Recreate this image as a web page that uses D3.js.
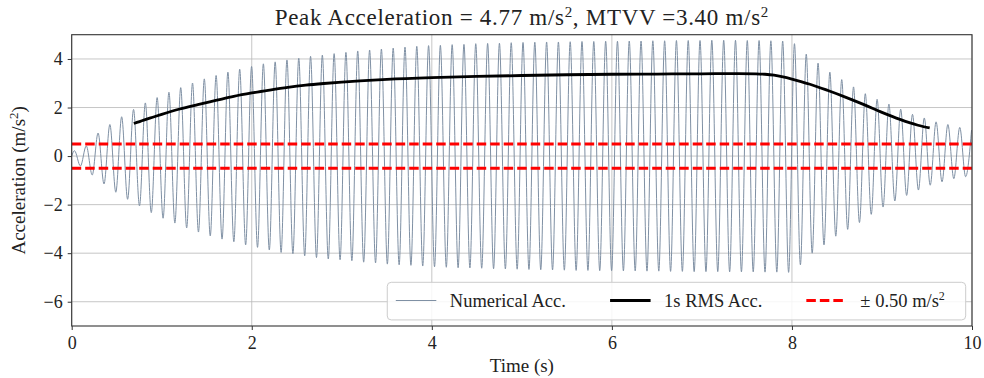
<!DOCTYPE html>
<html>
<head>
<meta charset="utf-8">
<script src="https://cdn.jsdelivr.net/npm/d3@7"></script>
<style>
  body { margin: 0; background: #fff; }
  svg { display: block; font-family: "Liberation Serif", "DejaVu Serif", serif; }
</style>
</head>
<body>
<div id="chart"></div>
<script>
// values
const startPoint = [0, 0];

const peakTimes = [0.031, 0.162, 0.293, 0.424, 0.555, 0.687, 0.818, 0.949, 1.080, 1.211,
  1.342, 1.473, 1.604, 1.735, 1.866, 1.998, 2.129, 2.260, 2.391, 2.522,
  2.653, 2.784, 2.915, 3.046, 3.177, 3.309, 3.440, 3.571, 3.702, 3.833,
  3.964, 4.095, 4.226, 4.357, 4.488, 4.620, 4.751, 4.882, 5.013, 5.144,
  5.275, 5.406, 5.537, 5.668, 5.799, 5.931, 6.062, 6.193, 6.324, 6.455,
  6.586, 6.717, 6.848, 6.979, 7.110, 7.242, 7.373, 7.504, 7.635, 7.766,
  7.897, 8.028, 8.159, 8.290, 8.421, 8.553, 8.684, 8.815, 8.946, 9.077,
  9.208, 9.339, 9.470, 9.601, 9.732, 9.864, 9.995];
const peakValues = [0.22, 0.42, 0.95, 1.30, 1.62, 1.92, 2.19, 2.41, 2.63, 2.82,
  3.01, 3.18, 3.32, 3.46, 3.58, 3.69, 3.80, 3.88, 3.96, 4.03,
  4.11, 4.16, 4.22, 4.27, 4.33, 4.37, 4.41, 4.45, 4.49, 4.52,
  4.55, 4.56, 4.59, 4.60, 4.63, 4.64, 4.65, 4.67, 4.68, 4.69,
  4.70, 4.70, 4.71, 4.72, 4.72, 4.73, 4.73, 4.74, 4.74, 4.75,
  4.75, 4.76, 4.76, 4.76, 4.77, 4.77, 4.77, 4.76, 4.76, 4.75,
  4.74, 4.63, 4.20, 3.83, 3.46, 3.15, 2.85, 2.57, 2.34, 2.14,
  1.93, 1.72, 1.57, 1.41, 1.30, 1.18, 1.07];

const troughTimes = [0.097, 0.228, 0.359, 0.490, 0.621, 0.753, 0.884, 1.015, 1.146, 1.277,
  1.408, 1.539, 1.670, 1.801, 1.932, 2.064, 2.195, 2.326, 2.457, 2.588,
  2.719, 2.850, 2.981, 3.112, 3.243, 3.375, 3.506, 3.637, 3.768, 3.899,
  4.030, 4.161, 4.292, 4.423, 4.554, 4.686, 4.817, 4.948, 5.079, 5.210,
  5.341, 5.472, 5.603, 5.734, 5.865, 5.997, 6.128, 6.259, 6.390, 6.521,
  6.652, 6.783, 6.914, 7.045, 7.176, 7.308, 7.439, 7.570, 7.701, 7.832,
  7.963, 8.094, 8.225, 8.356, 8.487, 8.619, 8.750, 8.881, 9.012, 9.143,
  9.274, 9.405, 9.536, 9.667, 9.798, 9.929];
const troughValues = [-0.41, -0.78, -1.15, -1.49, -1.78, -2.05, -2.33, -2.56, -2.76, -2.96,
  -3.13, -3.29, -3.42, -3.53, -3.66, -3.76, -3.87, -3.97, -4.02, -4.11,
  -4.18, -4.24, -4.27, -4.31, -4.37, -4.40, -4.45, -4.48, -4.50, -4.53,
  -4.56, -4.58, -4.60, -4.61, -4.62, -4.64, -4.65, -4.66, -4.67, -4.68,
  -4.69, -4.70, -4.71, -4.71, -4.72, -4.72, -4.73, -4.73, -4.74, -4.74,
  -4.75, -4.75, -4.76, -4.76, -4.76, -4.77, -4.77, -4.77, -4.78, -4.78,
  -4.79, -4.48, -4.00, -3.66, -3.30, -3.02, -2.74, -2.40, -2.10, -1.85,
  -1.62, -1.40, -1.20, -1.06, -0.93, -0.85];

const rmsTimes = [0.69, 0.8, 0.9, 1.0, 1.2, 1.4, 1.6, 1.8, 2.0, 2.2, 2.4, 2.6, 2.8, 3.0, 3.2,
  3.5, 4.0, 4.5, 5.0, 5.5, 6.0, 6.5, 7.0, 7.4, 7.6, 7.7, 7.8, 7.9, 8.0, 8.1, 8.2, 8.4, 8.6, 8.8, 9.0, 9.2, 9.4, 9.53];
const rmsValues = [1.34, 1.48, 1.60, 1.72, 1.94, 2.12, 2.29, 2.46, 2.60, 2.72, 2.83, 2.92, 2.99, 3.05, 3.10,
  3.16, 3.23, 3.28, 3.32, 3.35, 3.37, 3.38, 3.39, 3.40, 3.39, 3.37, 3.33, 3.26, 3.17, 3.07, 2.96, 2.70, 2.42, 2.12, 1.80, 1.51, 1.27, 1.16];

const limit = 0.5;
const xTicks = [0, 2, 4, 6, 8, 10];
const yTicks = [-6, -4, -2, 0, 2, 4];
const legendLabels = ["Numerical Acc.", "1s RMS Acc.", "\u00b1 0.50 m/s"];

const width = 984, height = 378;
const margin = { top: 34.7, right: 12, bottom: 52, left: 71.7 };
const w = width - margin.left - margin.right;
const h = height - margin.top - margin.bottom;

const svg = d3.select("#chart").append("svg")
  .attr("width", width)
  .attr("height", height);

const x = d3.scaleLinear().domain([0, 10]).range([0, w]);
const y = d3.scaleLinear().domain([-7, 5]).range([h, 0]);

const g = svg.append("g")
  .attr("transform", "translate(" + margin.left + "," + margin.top + ")");

g.append("clipPath").attr("id", "clip")
  .append("rect").attr("width", w).attr("height", h);

// grid
g.append("g").selectAll("line").data(xTicks).enter().append("line")
  .attr("x1", d => x(d)).attr("x2", d => x(d))
  .attr("y1", 0).attr("y2", h)
  .attr("stroke", "#b8b8b8").attr("stroke-width", 0.8);
g.append("g").selectAll("line").data(yTicks).enter().append("line")
  .attr("x1", 0).attr("x2", w)
  .attr("y1", d => y(d)).attr("y2", d => y(d))
  .attr("stroke", "#b8b8b8").attr("stroke-width", 0.8);

// signal: start, then peaks and troughs in time order
const signal = [startPoint]
  .concat(peakTimes.map((t, i) => [t, peakValues[i]]))
  .concat(troughTimes.map((t, i) => [t, troughValues[i]]))
  .sort((a, b) => a[0] - b[0]);

const line = d3.line()
  .x(d => x(d[0]))
  .y(d => y(d[1]))
  .curve(d3.curveMonotoneX);

const plot = g.append("g").attr("clip-path", "url(#clip)");

plot.append("path")
  .datum(signal)
  .attr("d", line)
  .attr("fill", "none")
  .attr("stroke", "#7f90a4")
  .attr("stroke-width", 1);

plot.append("path")
  .datum(rmsTimes.map((t, i) => [t, rmsValues[i]]))
  .attr("d", line)
  .attr("fill", "none")
  .attr("stroke", "#000")
  .attr("stroke-width", 2.8);

plot.selectAll(".limit")
  .data([limit, -limit])
  .enter().append("line")
  .attr("x1", 0).attr("x2", w)
  .attr("y1", d => y(d)).attr("y2", d => y(d))
  .attr("stroke", "#ff0000")
  .attr("stroke-width", 3)
  .attr("stroke-dasharray", "9.5,4");

// axes
const xAxis = g.append("g")
  .attr("transform", "translate(0," + h + ")")
  .call(d3.axisBottom(x).tickValues(xTicks).tickSize(4).tickPadding(6).tickFormat(d3.format("d")));
const yAxis = g.append("g")
  .call(d3.axisLeft(y).tickValues(yTicks).tickSize(4).tickPadding(5)
    .tickFormat(d => d < 0 ? "\u2212" + Math.abs(d) : d));

[xAxis, yAxis].forEach(a => {
  a.select(".domain").remove();
  a.selectAll("line").attr("stroke", "#333").attr("stroke-width", 1);
  a.selectAll("text").attr("font-size", 18).attr("fill", "#222")
    .attr("font-family", "Liberation Serif");
});

// frame
g.append("rect")
  .attr("width", w).attr("height", h)
  .attr("fill", "none").attr("stroke", "#333").attr("stroke-width", 1.1);

// legend
const lg = g.append("g");
lg.append("rect")
  .attr("x", x(3.505)).attr("y", y(-5.2))
  .attr("width", x(9.93) - x(3.505)).attr("height", y(-6.75) - y(-5.2))
  .attr("rx", 4)
  .attr("fill", "#fff").attr("fill-opacity", 0.85)
  .attr("stroke", "#cccccc").attr("stroke-width", 1);

const legendItems = [
  { x0: 3.6, x1: 4.05, tx: 4.2, stroke: "#7f90a4", sw: 1, dash: null },
  { x0: 5.98, x1: 6.43, tx: 6.58, stroke: "#000", sw: 2.8, dash: null },
  { x0: 8.16, x1: 8.6, tx: 8.76, stroke: "#ff0000", sw: 3, dash: "9.5,4" }
];
const ly = y(-5.95);
legendItems.forEach((it, i) => {
  lg.append("line")
    .attr("x1", x(it.x0)).attr("x2", x(it.x1))
    .attr("y1", ly).attr("y2", ly)
    .attr("stroke", it.stroke).attr("stroke-width", it.sw)
    .attr("stroke-dasharray", it.dash);
  const t = lg.append("text")
    .attr("x", x(it.tx)).attr("y", ly)
    .attr("dy", "0.35em")
    .attr("font-size", 18.5).attr("fill", "#222")
    .text(legendLabels[i]);
  if (i === 2) {
    t.append("tspan").attr("baseline-shift", "super").attr("font-size", 12).text("2");
  }
});

// title
const title = svg.append("text")
  .attr("x", margin.left + w / 2).attr("y", 25)
  .attr("text-anchor", "middle")
  .attr("font-size", 23).attr("letter-spacing", 0.7).attr("fill", "#222");
title.append("tspan").text("Peak Acceleration = 4.77 m/s");
title.append("tspan").attr("baseline-shift", "super").attr("font-size", 15).text("2");
title.append("tspan").text(", MTVV =3.40 m/s");
title.append("tspan").attr("baseline-shift", "super").attr("font-size", 15).text("2");

// axis labels
svg.append("text")
  .attr("x", margin.left + w / 2).attr("y", 372)
  .attr("text-anchor", "middle")
  .attr("font-size", 19).attr("fill", "#222")
  .text("Time (s)");

const yl = svg.append("text")
  .attr("transform", "translate(25," + (margin.top + y(-1)) + ") rotate(-90)")
  .attr("text-anchor", "middle")
  .attr("font-size", 19).attr("fill", "#222");
yl.append("tspan").text("Acceleration (m/s");
yl.append("tspan").attr("baseline-shift", "super").attr("font-size", 13).text("2");
yl.append("tspan").text(")");
</script>
</body>
</html>
